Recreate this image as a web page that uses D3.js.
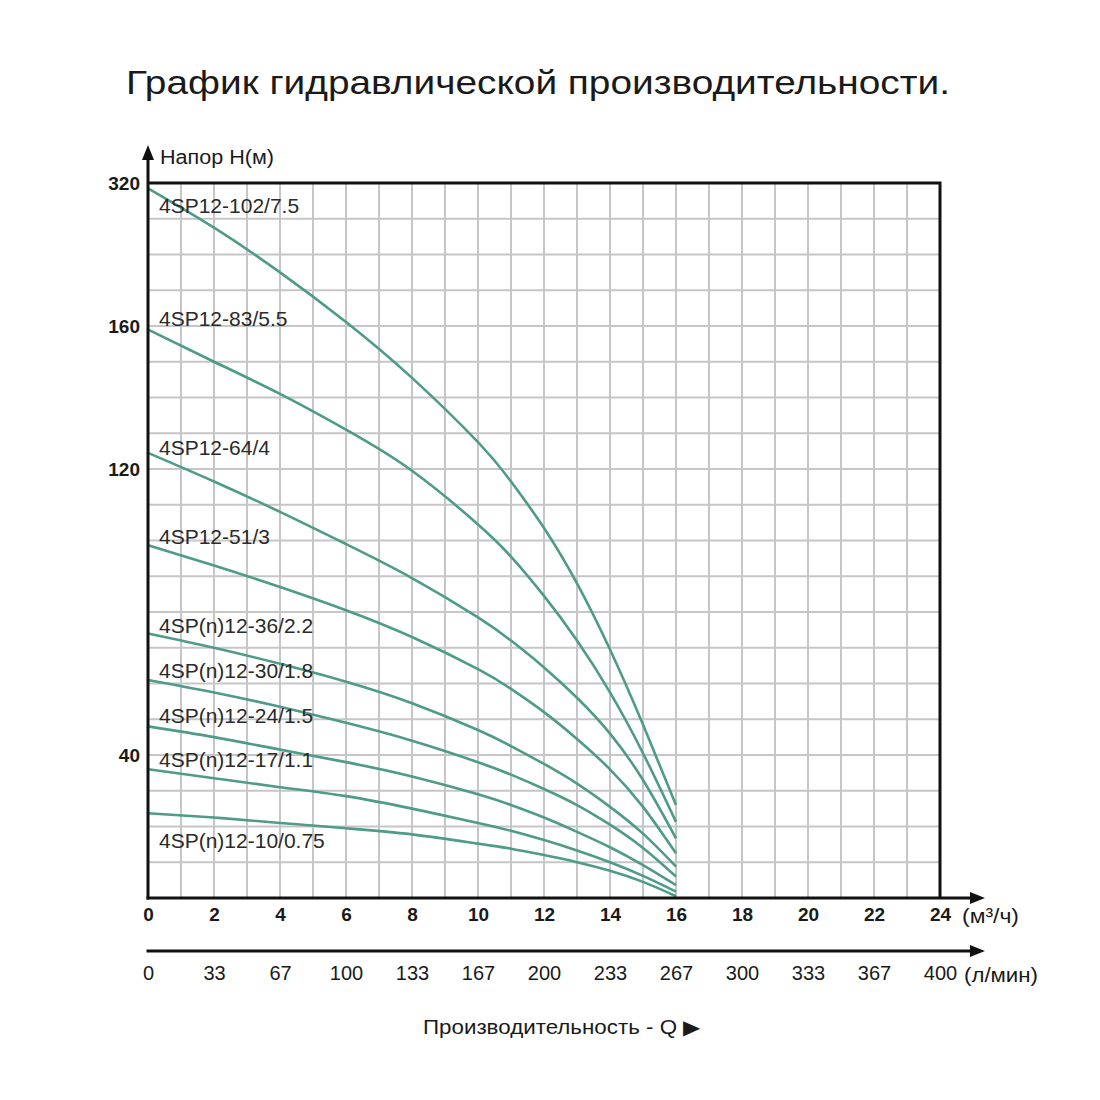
<!DOCTYPE html>
<meta charset="utf-8">
<style>
    body { margin: 0; background: #fff; }
    text { font-family: "Liberation Sans", Arial, sans-serif; fill: #1a1a1a; }
    .grid line { stroke: #c6c6c6; stroke-width: 2px; }
    .curve { fill: none; stroke: #4e9b88; stroke-width: 2.6px; }
    .frame { stroke: #111; stroke-width: 3px; fill: none; }
</style>
<body>
<svg id="chart" width="1100" height="1100"></svg>
<script src="https://d3js.org/d3.v7.min.js"></script>
<script>
// flow points, m3/h
const flowQ = [0, 2, 4, 6, 8, 10, 11, 12, 13, 14, 15, 16];

// head H (m) of each pump at flowQ
const h102 = [314, 270, 220, 164.5, 145.5, 127.5, 116.5, 103.5, 88, 69.5, 48.5, 26];
const h83 = [159, 150, 141, 131, 119.5, 104.5, 95.5, 84.5, 72, 57.5, 40.5, 21.3];
const h64 = [124.5, 116.5, 108, 99, 89.5, 78.5, 72, 64.5, 56, 46, 33, 16.7];
const h51 = [98.7, 93, 87, 80.5, 73, 64, 58.5, 52, 44.5, 36, 25.5, 12.5];
const h36 = [74, 70, 65.5, 60.5, 54.5, 47, 42.5, 37.5, 32, 25.5, 18, 8.8];
const h30 = [61, 57.5, 53.5, 49, 44, 38, 34.5, 30.5, 26, 20.5, 14, 6];
const h24 = [48, 45, 41.5, 38, 34, 29, 26, 22.5, 18.5, 14.2, 9.2, 3.6];
const h17 = [36, 33.5, 31, 28.5, 25, 21, 18.8, 16.2, 13.3, 10, 6.2, 1.8];
const h10 = [23.7, 22.5, 21, 19.5, 17.8, 15.2, 13.8, 12, 10, 7.6, 4.5, 0.5];

const pumpNames = ["4SP12-102/7.5", "4SP12-83/5.5", "4SP12-64/4", "4SP12-51/3",
    "4SP(n)12-36/2.2", "4SP(n)12-30/1.8", "4SP(n)12-24/1.5", "4SP(n)12-17/1.1", "4SP(n)12-10/0.75"];
const pumpHeads = [h102, h83, h64, h51, h36, h30, h24, h17, h10];
// head value where each name is written
const labelHead = [286, 160, 124, 99, 74, 61.5, 49, 36.6, 14];

const headTicks = [320, 160, 120, 40];
const flowTicks = [0, 2, 4, 6, 8, 10, 12, 14, 16, 18, 20, 22, 24];
const lpmTicks = ["0", "33", "67", "100", "133", "167", "200", "233", "267", "300", "333", "367", "400"];

const plotL = 148, plotR = 940, plotT = 183, plotB = 898;
const font = "Liberation Sans, Arial, sans-serif";

const svg = d3.select("#chart");

const x = d3.scaleLinear().domain([0, 24]).range([plotL, plotR]);
// the head axis is stretched: 10 m per cell up to 160, 40 m per cell above
const rowH = (plotB - plotT) / 20;
const y = d3.scaleLinear().domain([0, 160, 320]).range([plotB, plotB - 16 * rowH, plotT]);
const xl = d3.scalePoint().domain(lpmTicks).range([plotL, plotR]);

// grid
const gridRows = d3.range(1, 17).map(i => i * 10).concat([200, 240, 280]);
const grid = svg.append("g").attr("class", "grid");
grid.selectAll("line.v").data(d3.range(1, 24)).enter().append("line")
    .attr("class", "v")
    .attr("x1", d => x(d)).attr("x2", d => x(d))
    .attr("y1", plotT).attr("y2", plotB);
grid.selectAll("line.h").data(gridRows).enter().append("line")
    .attr("class", "h")
    .attr("x1", plotL).attr("x2", plotR)
    .attr("y1", d => y(d)).attr("y2", d => y(d));

// curves
const line = d3.line()
    .x((d, i) => x(flowQ[i]))
    .y(d => y(d))
    .curve(d3.curveNatural);
svg.selectAll("path.curve").data(pumpHeads).enter().append("path")
    .attr("class", "curve")
    .attr("d", line);

// frame
svg.append("path").attr("class", "frame")
    .attr("d", `M${plotL},${plotT}H${plotR}V${plotB}`);
svg.append("line").attr("class", "frame")
    .attr("x1", plotL).attr("x2", plotL).attr("y1", plotB + 1.5).attr("y2", 156);
svg.append("path").attr("d", `M${plotL},145L${plotL - 6},160L${plotL + 6},160Z`).attr("fill", "#111");

const axisEnd = 974;
[plotB, 951].forEach(yy => {
    svg.append("line").attr("class", "frame")
        .attr("x1", plotL - 1.5).attr("x2", axisEnd).attr("y1", yy).attr("y2", yy);
    svg.append("path").attr("d", `M985,${yy}L970,${yy - 6}L970,${yy + 6}Z`).attr("fill", "#111");
});

// pump names
svg.selectAll("text.pump").data(pumpNames).enter().append("text")
    .attr("class", "pump")
    .attr("x", 159)
    .attr("y", (d, i) => y(labelHead[i]))
    .attr("font-size", 21)
    .style("fill", "#2a2a2a")
    .text(d => d);

// head labels
svg.selectAll("text.ht").data(headTicks).enter().append("text")
    .attr("class", "ht")
    .attr("x", 140).attr("y", d => y(d))
    .attr("dy", "0.35em")
    .attr("text-anchor", "end")
    .attr("font-size", 19).attr("font-weight", "bold")
    .text(d => d);

svg.append("text").attr("x", 160).attr("y", 157).attr("dy", "0.35em")
    .attr("font-size", 20).attr("textLength", 114).attr("lengthAdjust", "spacingAndGlyphs")
    .text("Напор H(м)");

// flow axes
svg.append("g").attr("transform", `translate(0,${plotB + 6})`)
    .call(d3.axisBottom(x).tickValues(flowTicks).tickSize(0).tickPadding(4))
    .call(g => g.select(".domain").remove())
    .call(g => g.selectAll("text").attr("font-size", 19).attr("font-weight", "bold")
        .attr("font-family", font).style("fill", "#1a1a1a"));

svg.append("g").attr("transform", "translate(0,962)")
    .call(d3.axisBottom(xl).tickSize(0).tickPadding(4))
    .call(g => g.select(".domain").remove())
    .call(g => g.selectAll("text").attr("font-size", 20)
        .attr("font-family", font).style("fill", "#1a1a1a"));

svg.append("text").attr("x", 962).attr("y", 916).attr("dy", "0.35em")
    .attr("font-size", 20).attr("textLength", 57).attr("lengthAdjust", "spacingAndGlyphs")
    .text("(м³/ч)");
svg.append("text").attr("x", 964).attr("y", 975).attr("dy", "0.35em")
    .attr("font-size", 20).attr("textLength", 74).attr("lengthAdjust", "spacingAndGlyphs")
    .text("(л/мин)");

svg.append("text").attr("x", 423).attr("y", 1027).attr("dy", "0.35em")
    .attr("font-size", 20).attr("textLength", 277).attr("lengthAdjust", "spacingAndGlyphs")
    .text("Производительность - Q ▶");

// title
svg.append("text").attr("x", 126).attr("y", 94)
    .attr("font-size", 34)
    .attr("textLength", 824).attr("lengthAdjust", "spacingAndGlyphs")
    .text("График гидравлической производительности.");
</script>
</body>
